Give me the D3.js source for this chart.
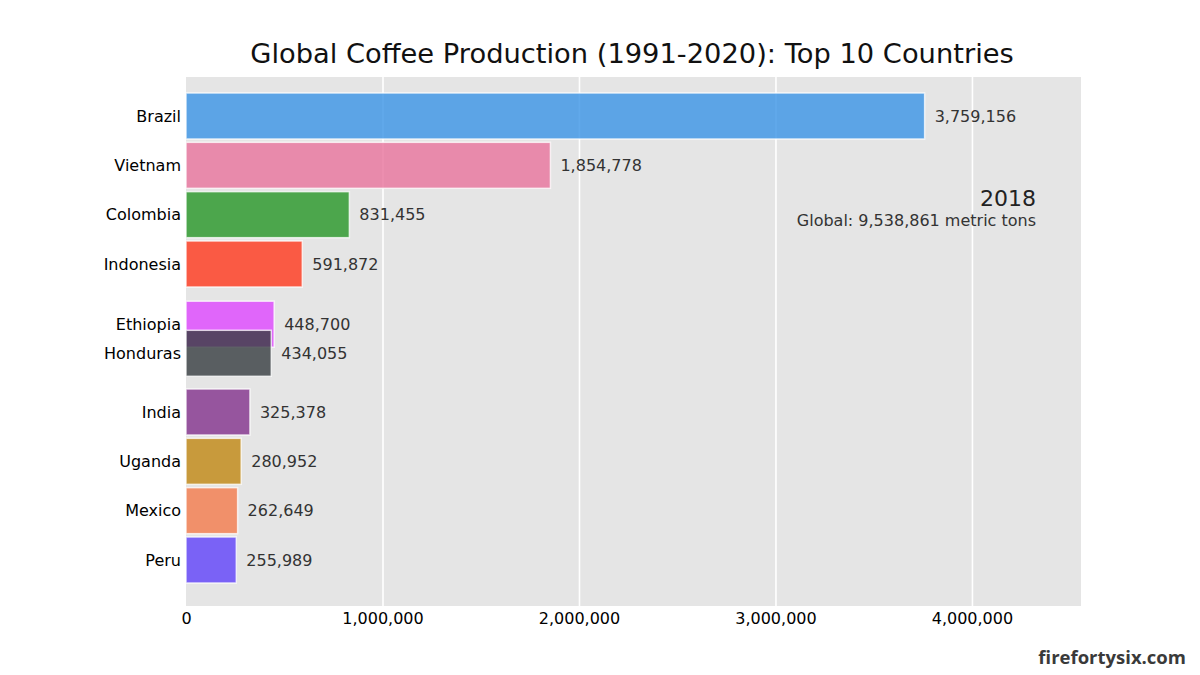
<!DOCTYPE html>
<html>
<head>
<meta charset="utf-8">
<script src="https://cdn.jsdelivr.net/npm/d3@7/dist/d3.min.js"></script>
<style>
  html, body { margin: 0; padding: 0; background: #ffffff; }
  svg { display: block; }
</style>
</head>
<body>
<svg id="chart" width="1200" height="675"></svg>
<script>
// ---- Data (year 2018 frame) ----
const countries = ["Brazil", "Vietnam", "Colombia", "Indonesia", "Ethiopia", "Honduras", "India", "Uganda", "Mexico", "Peru"];
const production = [3759156, 1854778, 831455, 591872, 448700, 434055, 325378, 280952, 262649, 255989];
// bar positions in the animated race (Ethiopia and Honduras are mid-swap)
const ranks = [0, 1, 2, 3, 4.22, 4.81, 6, 7, 8, 9];
const colors = ["#3a94e6", "#e9739c", "#269626", "#ff371c", "#df46ff", "#363c40", "#82318c", "#c08711", "#f47b4b", "#5f41fa"];
const xTicks = [0, 1000000, 2000000, 3000000, 4000000];
const xMax = 4555000;
const yearLabel = "2018";
const globalTotal = 9538861;
const titleText = "Global Coffee Production (1991-2020): Top 10 Countries";

const svg = d3.select("#chart");
const fmt = d3.format(",");

const plot = { left: 186, right: 1081, top: 77, bottom: 606 };

const x = d3.scaleLinear().domain([0, xMax]).range([plot.left, plot.right]);
const y = d3.scaleLinear().domain([0, 9]).range([116, 560]);
const barH = 46;

// background
svg.append("rect")
  .attr("x", plot.left).attr("y", plot.top)
  .attr("width", plot.right - plot.left).attr("height", plot.bottom - plot.top)
  .attr("fill", "#e5e5e5");

// x axis with gridlines
const xAxis = d3.axisBottom(x).tickValues(xTicks).tickFormat(fmt)
  .tickSize(-(plot.bottom - plot.top)).tickPadding(7);
const gx = svg.append("g").attr("transform", `translate(0,${plot.bottom})`).call(xAxis);
gx.select(".domain").remove();
gx.selectAll(".tick line").attr("stroke", "#ffffff").attr("stroke-width", 1.6)
  .filter(d => d === 0).remove();
gx.selectAll(".tick text")
  .attr("font-family", "DejaVu Sans").attr("font-size", 16).attr("fill", "#000");

// data rows
const rows = countries.map((c, i) => ({ c, v: production[i], r: ranks[i], col: colors[i] }));

svg.append("g").selectAll("rect").data(rows).join("rect")
  .attr("x", x(0))
  .attr("y", d => y(d.r) - barH / 2)
  .attr("width", d => x(d.v) - x(0))
  .attr("height", barH)
  .attr("fill", d => d.col)
  .attr("fill-opacity", 0.8)
  .attr("stroke", "#ffffff")
  .attr("stroke-opacity", 0.75)
  .attr("stroke-width", 1.5);

// country labels
svg.append("g").selectAll("text").data(rows).join("text")
  .attr("x", plot.left - 5)
  .attr("y", d => y(d.r))
  .attr("dy", "0.36em")
  .attr("text-anchor", "end")
  .attr("font-family", "DejaVu Sans").attr("font-size", 16).attr("fill", "#000")
  .text(d => d.c);

// value labels
svg.append("g").selectAll("text").data(rows).join("text")
  .attr("x", d => x(d.v) + 10)
  .attr("y", d => y(d.r))
  .attr("dy", "0.36em")
  .attr("font-family", "DejaVu Sans").attr("font-size", 16).attr("fill", "#333")
  .text(d => fmt(d.v));

// year & total
svg.append("text")
  .attr("x", 1036).attr("y", 206).attr("text-anchor", "end")
  .attr("font-family", "DejaVu Sans").attr("font-size", 22).attr("fill", "#222")
  .text(yearLabel);
svg.append("text")
  .attr("x", 1036).attr("y", 226).attr("text-anchor", "end")
  .attr("font-family", "DejaVu Sans").attr("font-size", 16).attr("fill", "#333")
  .text(`Global: ${fmt(globalTotal)} metric tons`);

// title
svg.append("text")
  .attr("x", 632).attr("y", 63).attr("text-anchor", "middle")
  .attr("font-family", "DejaVu Sans").attr("font-size", 27.3).attr("fill", "#111")
  .text(titleText);

// watermark
svg.append("text")
  .attr("x", 1186).attr("y", 664).attr("text-anchor", "end")
  .attr("font-family", "Open Sans").attr("font-weight", 700).attr("font-size", 18.5).attr("fill", "#3a3a3a")
  .text("firefortysix.com");
</script>
</body>
</html>
